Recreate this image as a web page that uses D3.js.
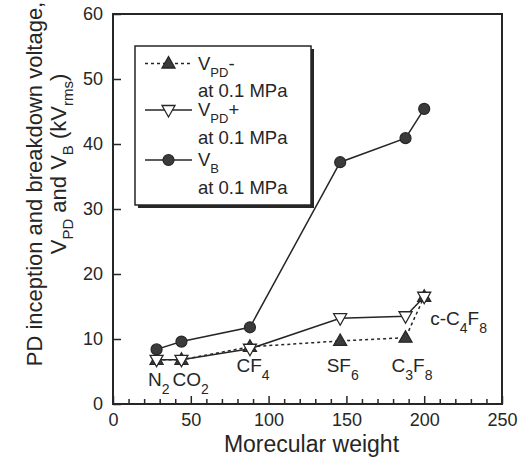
<!DOCTYPE html>
<html>
<head>
<meta charset="utf-8">
<script src="https://cdn.jsdelivr.net/npm/d3@7"></script>
<style>
  body { margin: 0; background: #fff; }
  svg { display: block; font-family: "Liberation Sans", Arial, sans-serif; }
</style>
</head>
<body>
<div id="chart"></div>
<script>
// data
const gases = ["N_2", "CO_2", "CF_4", "SF_6", "C_3F_8", "c-C_4F_8"];
const weights = [28, 44, 88, 146, 188, 200];
const vpdMinus = [6.8, 6.8, 8.8, 9.7, 10.2, 16.5];
const vpdPlus = [6.8, 6.8, 8.5, 13.2, 13.5, 16.5];
const vb = [8.4, 9.6, 11.8, 37.2, 40.9, 45.4];
const xTicks = [0, 50, 100, 150, 200, 250];
const yTicks = [0, 10, 20, 30, 40, 50, 60];

const W = 527, H = 460;
const margin = { top: 14, right: 25, bottom: 56, left: 113 };
const ink = "#262626";

const svg = d3.select("#chart").append("svg")
  .attr("width", W)
  .attr("height", H);

const x = d3.scaleLinear().domain([0, 250]).range([margin.left, W - margin.right]);
const y = d3.scaleLinear().domain([0, 60]).range([H - margin.bottom, margin.top]);

// text with _x or _{xx} subscripts
function rich(t, str, subSize, subDy) {
  const parts = str.split(/(_\{[^}]*\}|_.)/).filter(s => s);
  let down = false;
  parts.forEach(p => {
    if (p[0] === "_") {
      const s = p[1] === "{" ? p.slice(2, -1) : p.slice(1);
      t.append("tspan").attr("font-size", subSize).attr("dy", down ? 0 : subDy).text(s);
      down = true;
    } else {
      t.append("tspan").attr("dy", down ? -subDy : 0).text(p);
      down = false;
    }
  });
  return t;
}

// axes (ticks point inward)
const minor = d3.range(10, 250, 10).filter(v => v % 50);
const gx1 = svg.append("g").attr("transform", `translate(0,${y(0)})`)
  .call(d3.axisBottom(x).tickValues(minor).tickSize(-5).tickFormat(""));
const gx2 = svg.append("g").attr("transform", `translate(0,${y(0)})`)
  .call(d3.axisBottom(x).tickValues(xTicks).tickSize(-8).tickPadding(9));
const gy = svg.append("g").attr("transform", `translate(${x(0)},0)`)
  .call(d3.axisLeft(y).tickValues(yTicks).tickSize(-8).tickPadding(10));

[gx1, gx2, gy].forEach(g => {
  g.select(".domain").remove();
  g.selectAll(".tick line").attr("stroke", ink).attr("stroke-width", 1.5);
  g.selectAll(".tick text").attr("fill", ink).attr("font-size", 18)
    .attr("font-family", "Liberation Sans, Arial, sans-serif");
});

svg.append("rect")
  .attr("x", x(0)).attr("y", y(60))
  .attr("width", x(250) - x(0)).attr("height", y(0) - y(60))
  .attr("fill", "none").attr("stroke", ink).attr("stroke-width", 2);

// titles
svg.append("text")
  .attr("x", (x(0) + x(250)) / 2 + 4).attr("y", 452)
  .attr("text-anchor", "middle").attr("font-size", 23).attr("fill", ink)
  .text("Morecular weight");

svg.append("text")
  .attr("transform", "translate(42,184) rotate(-90)")
  .attr("text-anchor", "middle").attr("font-size", 22).attr("fill", ink)
  .text("PD inception and breakdown voltage,");

rich(svg.append("text")
  .attr("transform", "translate(66,164) rotate(-90)")
  .attr("text-anchor", "middle").attr("font-size", 22).attr("fill", ink),
  "V_{PD} and V_B (kV_{rms})", 15, 7);

// markers
const upTri = "M0,-7L6.5,4.5L-6.5,4.5Z";
const downTri = "M0,7L6.5,-4.5L-6.5,-4.5Z";
function marker(g, kind, cx, cy) {
  if (kind === "circle") {
    g.append("circle").attr("cx", cx).attr("cy", cy).attr("r", 5.5)
      .attr("fill", "#3b3b3b").attr("stroke", ink).attr("stroke-width", 1.2);
  } else {
    g.append("path").attr("d", kind === "up" ? upTri : downTri)
      .attr("transform", `translate(${cx},${cy})`)
      .attr("fill", kind === "up" ? "#3b3b3b" : "#fff")
      .attr("stroke", ink).attr("stroke-width", 1.3);
  }
}

const series = [
  { vals: vpdMinus, dash: "3,3", kind: "up", name: "V_{PD}-" },
  { vals: vpdPlus, dash: null, kind: "down", name: "V_{PD}+" },
  { vals: vb, dash: null, kind: "circle", name: "V_B" }
];

const line = d3.line().x((d, i) => x(weights[i])).y(d => y(d));

const plot = svg.append("g");
series.forEach(s => {
  plot.append("path").datum(s.vals)
    .attr("d", line).attr("fill", "none")
    .attr("stroke", ink).attr("stroke-width", 1.5)
    .attr("stroke-dasharray", s.dash);
});
series.forEach(s => {
  s.vals.forEach((v, i) => marker(plot, s.kind, x(weights[i]), y(v)));
});

// gas labels: [pixel dx from point, y value of baseline]
const labelAt = [[-8.5, 2.8], [-9, 2.8], [-13.5, 4.9], [-13.5, 4.9], [-14, 4.9], [6, 12.2]];
gases.forEach((g, i) => {
  rich(svg.append("text")
    .attr("x", x(weights[i]) + labelAt[i][0]).attr("y", y(labelAt[i][1]))
    .attr("font-size", 19).attr("fill", ink), g, 14, 8);
});

// legend
const lg = svg.append("g");
lg.append("rect").attr("x", 138).attr("y", 49).attr("width", 176).attr("height", 159).attr("fill", ink);
lg.append("rect").attr("x", 135).attr("y", 46).attr("width", 176).attr("height", 159)
  .attr("fill", "#fff").attr("stroke", ink).attr("stroke-width", 1.5);

const rowY = [63.5, 110, 160];
series.forEach((s, i) => {
  const ly = rowY[i];
  lg.append("line").attr("x1", 145).attr("x2", 192).attr("y1", ly).attr("y2", ly)
    .attr("stroke", ink).attr("stroke-width", 1.5).attr("stroke-dasharray", s.dash);
  marker(lg, s.kind, 168.5, ly);
  rich(lg.append("text").attr("x", 198).attr("y", ly + 6)
    .attr("font-size", 18.5).attr("fill", ink), s.name, 13, 7);
  lg.append("text").attr("x", 198).attr("y", ly + 33.5)
    .attr("font-size", 18.5).attr("fill", ink).text("at 0.1 MPa");
});
</script>
</body>
</html>
